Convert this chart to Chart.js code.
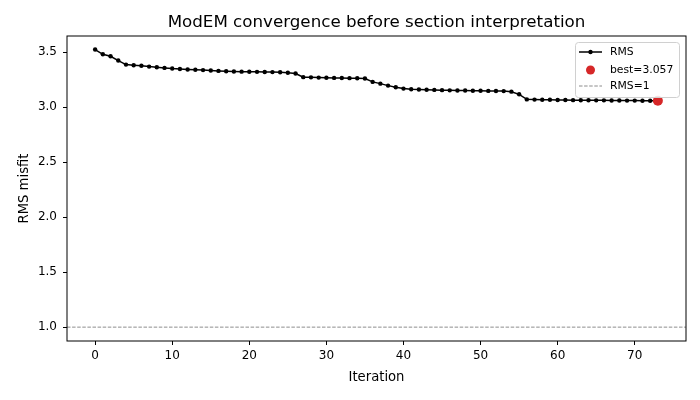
<!DOCTYPE html>
<html lang="en">
<head>
  <meta charset="UTF-8">
  <script src="https://cdn.jsdelivr.net/npm/chart.js"></script>
  <title>ModEM convergence</title>
  <style>
    html, body { margin: 0; padding: 0; background: #fff; }
    #wrap { width: 700px; height: 400px; }
  </style>
</head>
<body>
  <div id="wrap"><canvas id="grafico"></canvas></div>
<script>
  // dados
  const iteracoes = [0, 1, 2, 3, 4, 5, 6, 7, 8, 9, 10, 11, 12, 13, 14, 15, 16, 17, 18, 19,
    20, 21, 22, 23, 24, 25, 26, 27, 28, 29, 30, 31, 32, 33, 34, 35, 36, 37, 38, 39,
    40, 41, 42, 43, 44, 45, 46, 47, 48, 49, 50, 51, 52, 53, 54, 55, 56, 57, 58, 59,
    60, 61, 62, 63, 64, 65, 66, 67, 68, 69, 70, 71, 72, 73];
  const rms = [3.523, 3.480, 3.462, 3.423, 3.386, 3.380, 3.375, 3.368, 3.362, 3.356,
    3.350, 3.346, 3.342, 3.339, 3.336, 3.332, 3.329, 3.326, 3.324, 3.322,
    3.321, 3.320, 3.319, 3.318, 3.316, 3.312, 3.305, 3.272, 3.270, 3.268,
    3.266, 3.265, 3.264, 3.263, 3.262, 3.260, 3.229, 3.213, 3.195, 3.180,
    3.168, 3.162, 3.160, 3.158, 3.156, 3.154, 3.152, 3.151, 3.150, 3.149,
    3.148, 3.147, 3.146, 3.145, 3.140, 3.116, 3.070, 3.068, 3.067, 3.066,
    3.065, 3.064, 3.063, 3.062, 3.062, 3.061, 3.061, 3.060, 3.060, 3.059,
    3.059, 3.058, 3.058, 3.057];
  const melhorIter = 73;
  const melhorRms = 3.057;
  const rmsAlvo = 1;
  const xTicks = [0, 10, 20, 30, 40, 50, 60, 70];
  const yTicks = [1.0, 1.5, 2.0, 2.5, 3.0, 3.5];
  const titulo = 'ModEM convergence before section interpretation';

  const fonte = 'DejaVu Sans';

  // linha tracejada RMS=1, moldura do eixo e título centrado no gráfico
  const pluginFundo = {
    id: 'fundo',
    beforeDatasetsDraw(chart) {
      const { ctx, chartArea } = chart;
      const y = chart.scales.y.getPixelForValue(rmsAlvo);
      ctx.save();
      ctx.strokeStyle = '#808080';
      ctx.lineWidth = 0.9;
      ctx.setLineDash([3.5, 1.6]);
      ctx.beginPath();
      ctx.moveTo(chartArea.left, y);
      ctx.lineTo(chartArea.right, y);
      ctx.stroke();
      ctx.restore();
    },
    afterDatasetsDraw(chart) {
      const { ctx, chartArea } = chart;
      ctx.save();
      ctx.strokeStyle = '#000';
      ctx.lineWidth = 1;
      ctx.strokeRect(chartArea.left, chartArea.top, chartArea.right - chartArea.left, chartArea.bottom - chartArea.top);
      ctx.fillStyle = '#000';
      ctx.font = '16.7px ' + fonte;
      ctx.textAlign = 'center';
      ctx.textBaseline = 'middle';
      ctx.fillText(titulo, (chartArea.left + chartArea.right) / 2, chartArea.top - 13);
      ctx.restore();
    }
  };

  // legenda dentro do gráfico, canto superior direito
  const pluginLegenda = {
    id: 'legendaInterna',
    afterDraw(chart) {
      const { ctx, chartArea } = chart;
      const w = 104, h = 55;
      const x0 = chartArea.right - 7 - w;
      const y0 = chartArea.top + 6;
      ctx.save();
      ctx.fillStyle = 'rgba(255,255,255,0.85)';
      ctx.strokeStyle = '#d0d0d0';
      ctx.lineWidth = 1;
      ctx.beginPath();
      ctx.roundRect(x0 + 0.5, y0 + 0.5, w, h, 3);
      ctx.fill();
      ctx.stroke();

      const hx0 = x0 + 4, hx1 = x0 + 27, tx = x0 + 35;
      const linhas = [y0 + 10, y0 + 28, y0 + 44];
      ctx.font = '10.8px ' + fonte;
      ctx.textBaseline = 'middle';
      ctx.fillStyle = '#000';

      // RMS
      ctx.strokeStyle = '#000';
      ctx.lineWidth = 1.5;
      ctx.beginPath();
      ctx.moveTo(hx0, linhas[0]);
      ctx.lineTo(hx1, linhas[0]);
      ctx.stroke();
      ctx.beginPath();
      ctx.arc((hx0 + hx1) / 2, linhas[0], 2.2, 0, Math.PI * 2);
      ctx.fill();
      ctx.fillText(chart.data.datasets[0].label, tx, linhas[0]);

      // melhor
      ctx.fillStyle = '#d62728';
      ctx.beginPath();
      ctx.arc((hx0 + hx1) / 2, linhas[1], 4.5, 0, Math.PI * 2);
      ctx.fill();
      ctx.fillStyle = '#000';
      ctx.fillText(chart.data.datasets[1].label, tx, linhas[1]);

      // RMS=1
      ctx.strokeStyle = '#808080';
      ctx.lineWidth = 0.9;
      ctx.setLineDash([3.5, 1.6]);
      ctx.beginPath();
      ctx.moveTo(hx0, linhas[2]);
      ctx.lineTo(hx1, linhas[2]);
      ctx.stroke();
      ctx.setLineDash([]);
      ctx.fillText('RMS=' + rmsAlvo, tx, linhas[2]);
      ctx.restore();
    }
  };

  const pontos = iteracoes.map((it, i) => ({ x: it, y: rms[i] }));

  const config = {
    type: 'line',
    data: {
      datasets: [{
        label: 'RMS',
        data: pontos,
        borderColor: '#000',
        backgroundColor: '#000',
        borderWidth: 1.5,
        pointRadius: 2.2,
        pointBorderWidth: 0,
        pointBackgroundColor: '#000',
        tension: 0,
        order: 1
      }, {
        label: 'best=' + melhorRms.toFixed(3),
        data: [{ x: melhorIter, y: melhorRms }],
        showLine: false,
        pointRadius: 5,
        pointBorderWidth: 0,
        pointBackgroundColor: '#d62728',
        backgroundColor: '#d62728',
        order: 0
      }]
    },
    options: {
      responsive: false,
      animation: false,
      devicePixelRatio: 1,
      layout: { padding: { left: 0, right: 14, top: 36, bottom: 0 } },
      plugins: {
        legend: { display: false },
        tooltip: { enabled: false },
        title: { display: false }
      },
      scales: {
        x: {
          type: 'linear',
          min: -3.65,
          max: 76.65,
          afterBuildTicks(scale) { scale.ticks = xTicks.map(v => ({ value: v })); },
          afterFit(scale) { scale.height = 59; },
          grid: { display: true, drawOnChartArea: false, drawTicks: true, tickLength: 4, color: '#000' },
          border: { display: false },
          ticks: { color: '#000', padding: 4, font: { family: fonte, size: 12 }, maxRotation: 0 },
          title: {
            display: true, text: 'Iteration', color: '#000',
            font: { family: fonte, size: 13.2 },
            padding: { top: 4, bottom: 15 }
          }
        },
        y: {
          type: 'linear',
          min: 0.874,
          max: 3.646,
          afterBuildTicks(scale) { scale.ticks = yTicks.map(v => ({ value: v })); },
          afterFit(scale) { scale.width = 67; },
          grid: { display: true, drawOnChartArea: false, drawTicks: true, tickLength: 4, color: '#000' },
          border: { display: false },
          ticks: {
            color: '#000', padding: 6, font: { family: fonte, size: 12 },
            callback: v => v.toFixed(1)
          },
          title: {
            display: true, text: 'RMS misfit', color: '#000',
            font: { family: fonte, size: 13.2 },
            padding: { top: 17, bottom: 4 }
          }
        }
      }
    },
    plugins: [pluginFundo, pluginLegenda]
  };

  const canvas = document.getElementById('grafico');
  canvas.width = 700;
  canvas.height = 400;
  new Chart(canvas, config);
</script>
</body>
</html>
